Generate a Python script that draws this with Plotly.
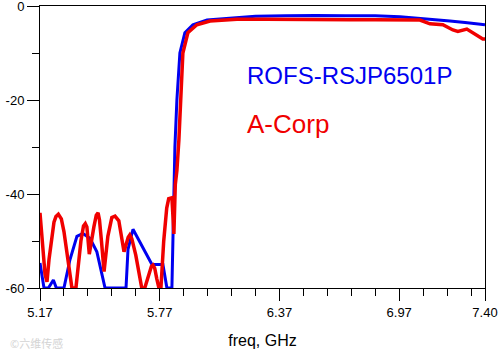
import plotly.graph_objects as go

# ---- data ----
blue_freq = [5.170, 5.190, 5.212, 5.237, 5.252, 5.290, 5.320, 5.355, 5.385, 5.420,
             5.455, 5.496, 5.601, 5.611, 5.636, 5.686, 5.731, 5.786, 5.806, 5.831,
             5.841, 5.846, 5.856, 5.871, 5.896, 5.936, 6.007, 6.137, 6.250, 6.400,
             6.550, 6.700, 6.850, 6.974, 7.074, 7.150, 7.224, 7.300, 7.400]
blue_db = [-54.7, -60, -60, -58.3, -60, -60, -54, -49, -48.4, -49.4,
           -52.3, -60, -60, -51.8, -47.5, -51.3, -55, -55, -60, -60,
           -40, -30, -20, -10, -5.7, -4, -3, -2.6, -2.2, -2.1,
           -2.0, -2.1, -2.1, -2.3, -2.6, -2.9, -3.2, -3.5, -4.0]

red_freq = [5.170, 5.180, 5.195, 5.205, 5.215, 5.240, 5.250, 5.262, 5.277, 5.290,
            5.315, 5.330, 5.350, 5.375, 5.388, 5.397, 5.405, 5.417, 5.440, 5.452,
            5.461, 5.468, 5.478, 5.491, 5.510, 5.530, 5.546, 5.565, 5.591, 5.612,
            5.620, 5.630, 5.650, 5.680, 5.695, 5.715, 5.728, 5.736, 5.745, 5.755,
            5.766, 5.776, 5.790, 5.805, 5.815, 5.831, 5.841, 5.848, 5.856, 5.866,
            5.876, 5.886, 5.911, 5.956, 6.022, 6.157, 6.300, 6.473, 6.600, 6.723,
            6.850, 6.974, 7.074, 7.124, 7.189, 7.239, 7.264, 7.309, 7.359, 7.389,
            7.400]
red_db = [-44, -50, -57, -58.7, -54, -46, -44.8, -44.3, -45.3, -48,
          -56, -60, -60, -50, -46.8, -46.3, -47, -52.8, -47, -44.5,
          -44, -45.5, -50, -56.5, -49, -45, -44.7, -45.7, -52.3, -49.2,
          -48.7, -49.5, -53, -60, -60, -57, -55.4, -55.1, -55.8, -58,
          -60, -60, -50, -43, -41, -40.8, -48.5, -38, -35, -28.5,
          -20, -10, -5.7, -4, -3.2, -2.8, -2.8, -2.9, -2.8, -2.9,
          -2.9, -3.0, -3.0, -3.8, -4.0, -5.1, -5.4, -4.9, -6.2, -7.0,
          -7.0]

x_major = [5.17, 5.77, 6.37, 6.97, 7.40]
x_major_text = ["5.17", "5.77", "6.37", "6.97", "7.40"]
x_minor = [5.29, 5.41, 5.53, 5.65, 5.89, 6.01, 6.13, 6.25, 6.49, 6.61, 6.73, 6.85, 7.09, 7.21, 7.33]
y_major = [0, -20, -40, -60]
y_major_text = ["0", "-20", "-40", "-60"]
y_minor = [-10, -30, -50]

FONT = "Liberation Sans, Arial, sans-serif"

fig = go.Figure()
fig.add_trace(go.Scatter(x=blue_freq, y=blue_db, mode="lines",
                         line=dict(color="#0000f0", width=3), cliponaxis=False,
                         showlegend=False))
fig.add_trace(go.Scatter(x=red_freq, y=red_db, mode="lines",
                         line=dict(color="#f00000", width=3.5), cliponaxis=False,
                         showlegend=False))

fig.update_layout(
    width=501, height=355,
    margin=dict(l=40, r=16, t=6, b=67),
    paper_bgcolor="white", plot_bgcolor="white",
    font=dict(family=FONT, color="black"),
    xaxis=dict(range=[5.17, 7.40], showgrid=False, zeroline=False, automargin=False,
               showline=True, linecolor="black", linewidth=1, mirror=True,
               tickmode="array", tickvals=x_major, ticktext=x_major_text,
               ticks="outside", ticklen=12, tickwidth=1, tickcolor="black",
               tickfont=dict(size=13, family=FONT), ticklabeloverflow="allow",
               minor=dict(tickmode="array", tickvals=x_minor, ticks="outside",
                          ticklen=7, tickwidth=1, tickcolor="black", showgrid=False),
               title=dict(text="freq, GHz", font=dict(size=16, family=FONT), standoff=16)),
    yaxis=dict(range=[-60, 0], showgrid=False, zeroline=False, automargin=False,
               showline=True, linecolor="black", linewidth=1, mirror=True,
               tickmode="array", tickvals=y_major, ticktext=y_major_text,
               ticks="outside", ticklen=12, tickwidth=1, tickcolor="black",
               tickfont=dict(size=13, family=FONT), ticklabeloverflow="allow",
               minor=dict(tickmode="array", tickvals=y_minor, ticks="outside",
                          ticklen=7, tickwidth=1, tickcolor="black", showgrid=False)),
    annotations=[
        dict(text="ROFS-RSJP6501P", xref="paper", yref="paper", x=0.4607, y=0.755,
             xanchor="left", yanchor="middle", showarrow=False,
             font=dict(size=24, color="#0000f0", family=FONT)),
        dict(text="A-Corp", xref="paper", yref="paper", x=0.4607, y=0.583,
             xanchor="left", yanchor="middle", showarrow=False,
             font=dict(size=26, color="#f00000", family=FONT)),
        dict(text="©六维传感", xref="paper", yref="paper", x=-0.072, y=-0.195,
             xanchor="left", yanchor="middle", showarrow=False,
             font=dict(size=11, color="#d4d4d4", family="Noto Sans CJK SC")),
    ],
)

fig.write_html("out.html", config={"displayModeBar": False},
               post_script="document.body.style.margin='0';document.body.style.overflow='hidden';")
